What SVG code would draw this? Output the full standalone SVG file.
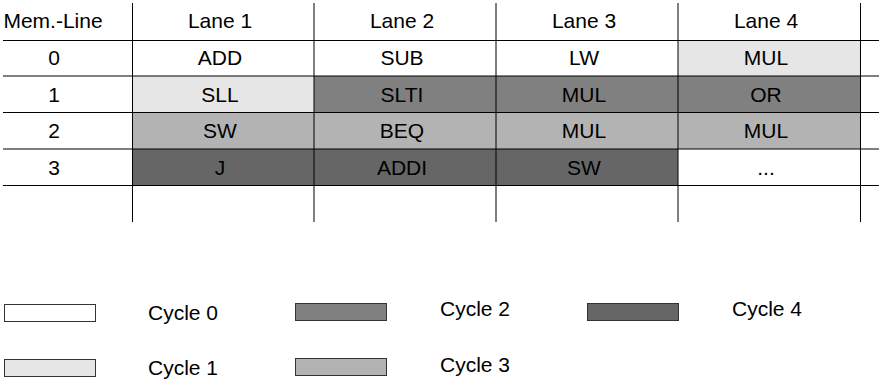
<svg xmlns="http://www.w3.org/2000/svg" width="879" height="381" viewBox="0 0 879 381">
<style>
text{font-family:"Liberation Sans",Arial,sans-serif;font-size:21px;fill:#000}
.c{text-anchor:middle}
.g0{fill:#ffffff}.g1{fill:#e6e6e6}.g2{fill:#808080}.g3{fill:#b3b3b3}.g4{fill:#666666}
.ln{stroke:#000;stroke-width:1;fill:none}
.lg{stroke:#333;stroke-width:1}
</style>
<rect width="879" height="381" fill="#fff"/>
<g id="cells">
<rect class="g1" x="678" y="40" width="182" height="36"/>
<rect class="g1" x="132" y="76" width="182" height="37"/>
<rect class="g2" x="314" y="76" width="546" height="37"/>
<rect class="g3" x="132" y="113" width="728" height="36"/>
<rect class="g4" x="132" y="149" width="546" height="36"/>
</g>
<g id="grid">
<line class="ln" x1="3" y1="40.5" x2="879" y2="40.5"/>
<line class="ln" x1="3" y1="76" x2="879" y2="76" stroke="#555"/>
<line class="ln" x1="3" y1="112.5" x2="879" y2="112.5"/>
<line class="ln" x1="3" y1="149" x2="879" y2="149" stroke="#555"/>
<line class="ln" x1="3" y1="185.5" x2="879" y2="185.5"/>
<line class="ln" x1="132.5" y1="3" x2="132.5" y2="222"/>
<line class="ln" x1="314" y1="3" x2="314" y2="222" stroke="#444"/>
<line class="ln" x1="496" y1="3" x2="496" y2="222" stroke="#444"/>
<line class="ln" x1="678" y1="3" x2="678" y2="222" stroke="#444"/>
<line class="ln" x1="860.5" y1="3" x2="860.5" y2="222"/>
</g>
<g id="header">
<text class="c" x="53" y="28">Mem.-Line</text>
<text class="c" x="220" y="28">Lane 1</text>
<text class="c" x="402" y="28">Lane 2</text>
<text class="c" x="584" y="28">Lane 3</text>
<text class="c" x="766" y="28">Lane 4</text>
</g>
<g id="row0">
<text class="c" x="54" y="65">0</text>
<text class="c" x="220" y="65">ADD</text>
<text class="c" x="402" y="65">SUB</text>
<text class="c" x="584" y="65">LW</text>
<text class="c" x="766" y="65">MUL</text>
</g>
<g id="row1">
<text class="c" x="54" y="102">1</text>
<text class="c" x="220" y="102">SLL</text>
<text class="c" x="402" y="102">SLTI</text>
<text class="c" x="584" y="102">MUL</text>
<text class="c" x="766" y="102">OR</text>
</g>
<g id="row2">
<text class="c" x="54" y="138">2</text>
<text class="c" x="220" y="138">SW</text>
<text class="c" x="402" y="138">BEQ</text>
<text class="c" x="584" y="138">MUL</text>
<text class="c" x="766" y="138">MUL</text>
</g>
<g id="row3">
<text class="c" x="54" y="175">3</text>
<text class="c" x="220" y="175">J</text>
<text class="c" x="402" y="175">ADDI</text>
<text class="c" x="584" y="175">SW</text>
<text class="c" x="766" y="175">...</text>
</g>
<g id="legend">
<rect class="g0 lg" x="4.5" y="304.5" width="91" height="17"/>
<text x="148" y="320">Cycle 0</text>
<rect class="g1 lg" x="4.5" y="359.5" width="91" height="17"/>
<text x="148" y="375">Cycle 1</text>
<rect class="g2 lg" x="295.5" y="303.5" width="91" height="17"/>
<text x="440" y="316">Cycle 2</text>
<rect class="g3 lg" x="295.5" y="358.5" width="91" height="17"/>
<text x="440" y="372">Cycle 3</text>
<rect class="g4 lg" x="587.5" y="303.5" width="91" height="17"/>
<text x="732" y="316">Cycle 4</text>
</g>
</svg>
